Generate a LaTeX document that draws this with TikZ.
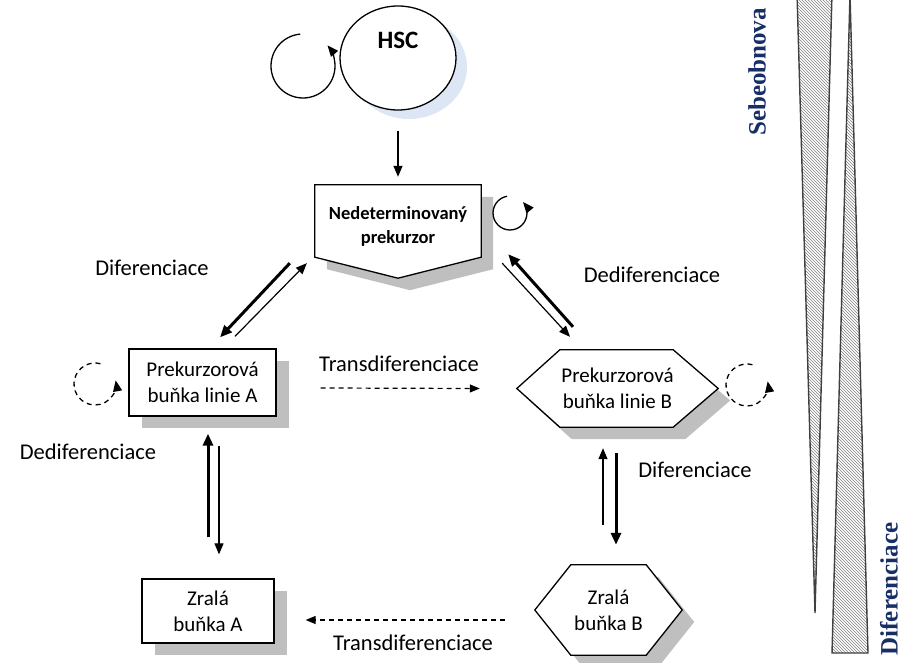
\documentclass[tikz,border=0pt]{standalone}
\usepackage{fontspec}
\setmainfont{Carlito}
\newfontfamily\sidefont{Liberation Serif}
\usepackage{tikz}
\usetikzlibrary{positioning}
\usetikzlibrary{shapes.geometric}
\usetikzlibrary{arrows.meta,
                shadows,
                patterns,
                backgrounds}
\definecolor{navytext}{HTML}{172F66}
\definecolor{hscshadow}{HTML}{DCE6F4}

\begin{document}
\begin{tikzpicture}[
      x=1pt, y=1pt,
      on grid,
      cellfont/.style={font=\fontsize{21}{26}\selectfont},
      labelfont/.style={font=\fontsize{22.5}{27}\selectfont},
      rectcell/.style={draw, line width=1.3pt, fill=white, cellfont, align=center, inner sep=0pt,
        drop shadow={shadow xshift=13pt, shadow yshift=-12pt, fill=gray!50, opacity=1}},
      shapecell/.style={cellfont, align=center, inner sep=0pt},
      cellshape/.style={draw, line width=1.3pt, fill=white, line join=miter,
        drop shadow={shadow xshift=12pt, shadow yshift=-12pt, fill=gray!50, opacity=1}},
      thinarr/.style={line width=1.2pt, -{Triangle[length=11pt,width=9pt]}},
      thickarr/.style={line width=3pt, -{Triangle[length=12pt,width=10pt]}},
      dasharr/.style={line width=1.2pt, dash pattern=on 5pt off 4pt, -{Triangle[length=10pt,width=8pt]}},
      selfloop/.style={line width=1.3pt, -{Triangle[length=11pt,width=9pt]}},
      wedge/.style={draw=black!75, line width=1.4pt, pattern=north west lines, pattern color=black!50},
      sidetext/.style={font=\sidefont\bfseries\fontsize{25}{30}\selectfont, text=navytext, rotate=90}
      ]

      \useasboundingbox (0,0) rectangle (902,662);

      \node[ellipse, draw, line width=1.3pt, fill=white, minimum width=116pt, minimum height=104pt,
        drop shadow={shadow xshift=11pt, shadow yshift=-9pt, fill=hscshadow, opacity=1}] (hsc) at (398,604) {};
      \node[font=\bfseries\fontsize{25}{29}\selectfont] (hsclabel) at ([yshift=18pt]hsc.center) {HSC};

      \node[shapecell, font=\bfseries\fontsize{18.5}{24}\selectfont, minimum width=166pt, minimum height=82pt,
        below=168pt of hsc] (ned) {Nedeterminovaný\\prekurzor};
      \node[rectcell, minimum width=147pt, minimum height=67pt, below left=156.5pt and 195.5pt of ned] (preka) {Prekurzorová\\buňka linie A};
      \node[shapecell, minimum width=201pt, minimum height=77pt, below right=162.5pt and 219.5pt of ned] (prekb) {Prekurzorová\\buňka linie B};
      \node[rectcell, minimum width=132pt, minimum height=64pt, below=228.5pt of preka, xshift=5.5pt] (zrala) {Zralá\\buňka A};
      \node[shapecell, minimum width=147pt, minimum height=90pt, below=221.5pt of prekb, xshift=-9pt] (zralb) {Zralá\\buňka B};

      \begin{pgfonlayer}{background}
        \draw[cellshape] (ned.north west) -- (ned.north east) -- ([yshift=10pt]ned.south east)
          -- ([yshift=-11pt]ned.south) -- ([yshift=10pt]ned.south west) -- cycle;
        \draw[cellshape] (prekb.west) -- ([xshift=43pt]prekb.north west) -- ([xshift=-45pt]prekb.north east)
          -- (prekb.east) -- ([xshift=-45pt]prekb.south east) -- ([xshift=43pt]prekb.south west) -- cycle;
        \draw[cellshape] (zralb.west) -- ([xshift=36pt]zralb.north west) -- ([xshift=-36pt]zralb.north east)
          -- (zralb.east) -- ([xshift=-36pt]zralb.south east) -- ([xshift=36pt]zralb.south west) -- cycle;
      \end{pgfonlayer}

      \node[labelfont] (difa) at (152,394) {Diferenciace};
      \node[labelfont] (dedifb) at (652,387) {Dediferenciace};
      \node[labelfont] (transtop) at (399,298) {Transdiferenciace};
      \node[labelfont] (dedifa) at (88,210) {Dediferenciace};
      \node[labelfont] (difb) at (695,192) {Diferenciace};
      \node[labelfont] (transbot) at (413,19) {Transdiferenciace};
      \node[sidetext] (selfren) at (757,590) {Sebeobnova};
      \node[sidetext] (diffside) at (889,73) {Diferenciace};

      \path (hsc) edge[thinarr, shorten <=20pt, shorten >=8pt] (ned);

      \path ([shift={(-25,4)}]ned.south west) edge[thickarr] ([shift={(17.5,11)}]preka.north)
      ([shift={(32.5,12)}]preka.north) edge[thinarr] ([shift={(-8,4)}]ned.south west)
      ([shift={(-44.5,23)}]prekb.north) edge[thickarr] ([shift={(27,13)}]ned.south east)
      ([shift={(21,4)}]ned.south east) edge[thinarr] ([shift={(-47.5,13)}]prekb.north)
      ;

      \path ([shift={(0,41)}]zrala.north) edge[thickarr] ([shift={(5.5,-17)}]preka.south)
      ([shift={(16.5,-29)}]preka.south) edge[thinarr] ([shift={(11,24)}]zrala.north)
      ([shift={(-5.5,40)}]zralb.north) edge[thinarr] ([shift={(-14.5,-21)}]prekb.south)
      ([shift={(-1.5,-26)}]prekb.south) edge[thickarr] ([shift={(7.5,20)}]zralb.north)
      ;

      \path ([shift={(44,-5.5)}]preka.east) edge[dasharr] ([shift={(-37,0)}]prekb.west);
      \path ([shift={(-30,-10)}]zralb.west) edge[dasharr] ([shift={(31,-9)}]zrala.east);

      \draw[selfloop] ([shift={(-95,-8)}]hsc.center) ++(95:32) arc[start angle=95, end angle=400, radius=32];
      \draw[selfloop] ([shift={(112,13)}]ned.center) ++(100:17) arc[start angle=100, end angle=400, radius=17];
      \draw[selfloop, dash pattern=on 5pt off 4pt] ([shift={(-107.5,-1.5)}]preka.center) ++(75:21) arc[start angle=75, end angle=370, radius=21];
      \draw[selfloop, dash pattern=on 5pt off 4pt] ([shift={(129.5,3.5)}]prekb.center) ++(75:21) arc[start angle=75, end angle=370, radius=21];

      \draw[wedge] (797,668) -- (832,668) -- (815,49) -- cycle;
      \draw[wedge] (850,668) -- (868,9) -- (832,9) -- cycle;

    \end{tikzpicture}
\end{document}
